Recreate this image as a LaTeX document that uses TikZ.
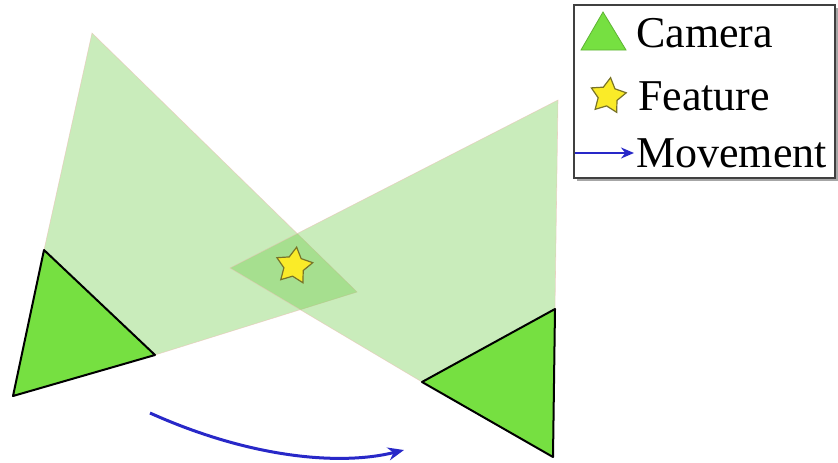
\documentclass[tikz,border=0pt]{standalone}
\usepackage{fontspec}
\setmainfont{Liberation Serif}
\usetikzlibrary{shapes.geometric,arrows.meta}
\definecolor{camgreen}{RGB}{118,224,65}
\definecolor{frgreen}{RGB}{100,200,60}
\definecolor{edgepink}{RGB}{235,190,180}
\definecolor{staryellow}{RGB}{250,235,40}
\definecolor{starrim}{RGB}{120,115,40}
\definecolor{moveblue}{RGB}{40,40,200}
\tikzset{
  frustum/.style={fill=frgreen,fill opacity=0.35,draw=edgepink,draw opacity=0.6,line width=0.6pt},
  camera/.style={fill=camgreen,draw=black,line width=2pt,line join=round},
  feature/.style={star,star points=5,star point ratio=1.85,minimum size=#1,inner sep=0pt,rotate=-8,fill=staryellow,draw=starrim,line width=1.2pt},
  movearrow/.style={draw=moveblue,line width=3pt,-{Stealth[length=16pt,width=13pt]}},
  legtext/.style={anchor=base west,inner sep=0pt,font=\fontsize{44}{48}\selectfont}
}
\begin{document}
\begin{tikzpicture}[x=1pt,y=-1pt]
\useasboundingbox (0,0) rectangle (838,463);
% frustums
\draw[frustum] (44,250) -- (92,33) -- (357,292) -- (155,355) -- cycle;
\draw[frustum] (555,309) -- (558,100) -- (230,268) -- (422,382) -- cycle;
% cameras
\draw[camera] (44,250) -- (13,396) -- (155,355) -- cycle;
\draw[camera] (555,309) -- (422,382) -- (553,457) -- cycle;
% feature
\node[feature=38pt] (feat) at (294,266) {};
% movement
\coordinate (m1) at (150,413);
\coordinate (m2) at (404,450);
\draw[movearrow] (m1) .. controls (250,458) and (340,466) .. (m2);
% legend
\fill[black!35] (577,8) rectangle (838,181);
\draw[fill=white,draw=black!75,line width=2pt] (574,5) rectangle (835,178);
\draw[fill=camgreen,draw=camgreen!80!black,line width=0.8pt] (603,12) -- (581,50) -- (626,50) -- cycle;
\node[legtext] (lcam) at (636,47) {Camera};
\node[feature=37pt] (lfeat) at (608,96) {};
\node[legtext] (lfea) at (638,110) {Feature};
\coordinate (la1) at (575,153);
\coordinate (la2) at (634,153);
\draw[draw=moveblue,line width=1.8pt,-{Stealth[length=13pt,width=11pt]}] (la1) -- (la2);
\node[legtext] (lmov) at (636,167) {Movement};
\end{tikzpicture}
\end{document}
